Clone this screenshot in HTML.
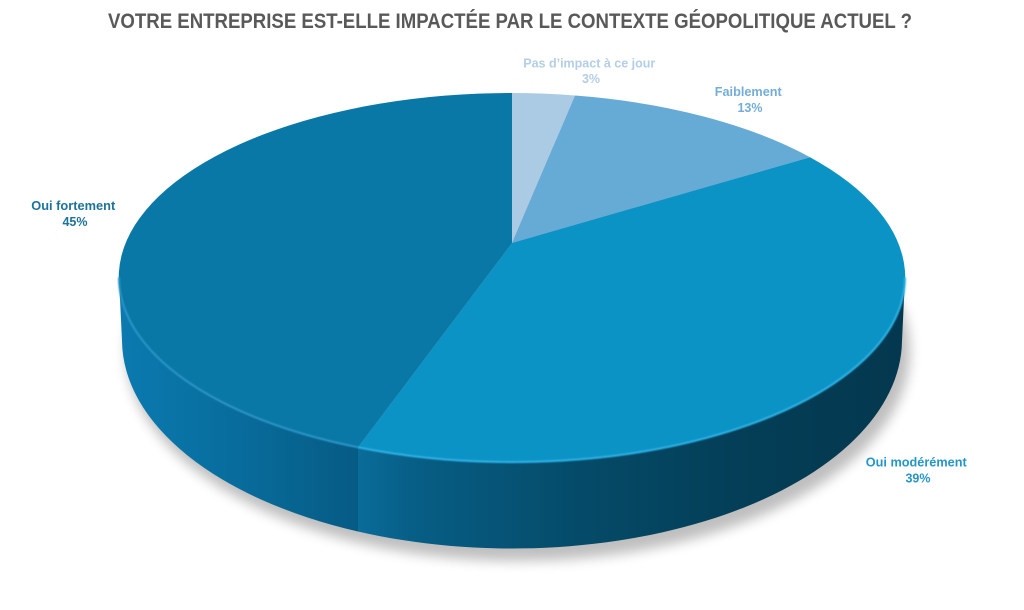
<!DOCTYPE html>
<html>
<head>
<meta charset="utf-8">
<style>
  html, body { margin:0; padding:0; background:#ffffff; }
  body { width:1024px; height:610px; overflow:hidden; }
  svg { display:block; }
  .t { font-family:"Liberation Sans", Arial, sans-serif; font-weight:bold; }
</style>
</head>
<body>
<svg width="1024" height="610" viewBox="0 0 1024 610" xmlns="http://www.w3.org/2000/svg">
  <defs>
    <filter id="blur" x="-20%" y="-20%" width="140%" height="140%">
      <feGaussianBlur stdDeviation="6"/>
    </filter>
    <filter id="soft" x="-5%" y="-5%" width="110%" height="110%">
      <feGaussianBlur stdDeviation="0.8"/>
    </filter>
    <linearGradient id="gF" gradientUnits="userSpaceOnUse" x1="119" y1="0" x2="358" y2="0">
      <stop offset="0" stop-color="#0b7ab0"/>
      <stop offset="0.5" stop-color="#086c9c"/>
      <stop offset="1" stop-color="#065b84"/>
    </linearGradient>
    <linearGradient id="gM" gradientUnits="userSpaceOnUse" x1="358" y1="0" x2="905" y2="0">
      <stop offset="0" stop-color="#0a6c9a"/>
      <stop offset="0.1" stop-color="#075e86"/>
      <stop offset="0.4" stop-color="#054b69"/>
      <stop offset="0.7" stop-color="#043e57"/>
      <stop offset="1" stop-color="#04384f"/>
    </linearGradient>
  </defs>

  <!-- Title -->
  <text class="t" x="510" y="28" text-anchor="middle" font-size="21" fill="#595959"
        textLength="804" lengthAdjust="spacingAndGlyphs">VOTRE ENTREPRISE EST-ELLE IMPACTÉE PAR LE CONTEXTE GÉOPOLITIQUE ACTUEL ?</text>

  <!-- Shadow -->
  <ellipse cx="518" cy="351" rx="392" ry="210" fill="#000" opacity="0.25" filter="url(#blur)"/>

  <!-- Walls -->
  <path d="M 119 277.5 A 393 184.5 0 0 0 358 447.3 L 358 531.5 A 390 209 0 0 1 122 341 Z" fill="url(#gF)"/>
  <path d="M 358 447.3 A 393 184.5 0 0 0 905 277.5 L 902 341 A 390 209 0 0 1 358 531.5 Z" fill="url(#gM)"/>

  <!-- Top face slices -->
  <path d="M 512 243 L 512 93 A 393 184.5 0 0 1 575 95.5 Z" fill="#abcbe5"/>
  <path d="M 512 243 L 575 95.5 A 393 184.5 0 0 1 810 157.2 Z" fill="#66aad6"/>
  <path d="M 512 243 L 810 157.2 A 393 184.5 0 0 1 358 447.3 Z" fill="#0c93c5"/>
  <path d="M 512 243 L 358 447.3 A 393 184.5 0 0 1 512 93 Z" fill="#0a78a6"/>

  <!-- Rim highlights -->
  <path d="M 119 277.5 A 393 184.5 0 0 0 358 447.3" fill="none" stroke="#2a95c8" stroke-width="2" filter="url(#soft)"/>
  <path d="M 358 447.3 A 393 184.5 0 0 0 905 277.5" fill="none" stroke="#2fb3e8" stroke-width="2" filter="url(#soft)"/>

  <!-- Labels -->
  <text class="t" font-size="12.5" fill="#b3cee6" text-anchor="middle">
    <tspan x="591" y="67.5" textLength="132" lengthAdjust="spacingAndGlyphs">Pas d’impact à ce jour</tspan>
    <tspan x="591" y="83">3%</tspan>
  </text>
  <text class="t" font-size="12.5" fill="#74aed8" text-anchor="middle">
    <tspan x="750" y="96" textLength="67" lengthAdjust="spacingAndGlyphs">Faiblement</tspan>
    <tspan x="750" y="112">13%</tspan>
  </text>
  <text class="t" font-size="12.5" fill="#1d739c" text-anchor="middle">
    <tspan x="75" y="210" textLength="84" lengthAdjust="spacingAndGlyphs">Oui fortement</tspan>
    <tspan x="75" y="226">45%</tspan>
  </text>
  <text class="t" font-size="12.5" fill="#2596c8" text-anchor="middle">
    <tspan x="918" y="466.5" textLength="101" lengthAdjust="spacingAndGlyphs">Oui modérément</tspan>
    <tspan x="918" y="482.5">39%</tspan>
  </text>
</svg>
</body>
</html>
